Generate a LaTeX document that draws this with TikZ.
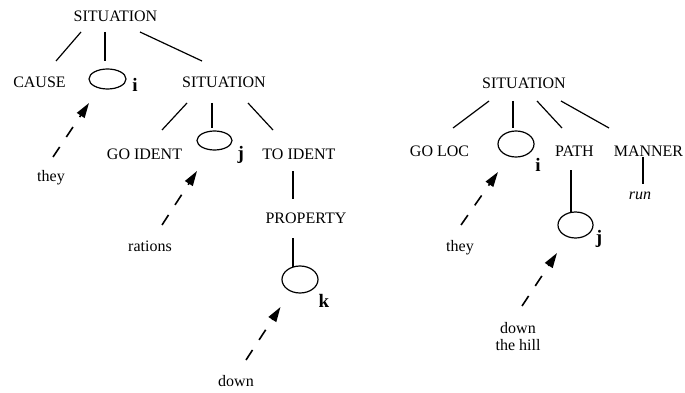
\documentclass[tikz,border=0pt]{standalone}
\usepackage{fontspec}
\setmainfont{Liberation Serif}
\usetikzlibrary{arrows.meta,shapes.geometric}
\begin{document}
\begin{tikzpicture}[x=1pt,y=-1pt,
  lbl/.style={inner sep=0pt,anchor=base,font=\fontsize{16}{17.5}\selectfont},
  idx/.style={inner sep=0pt,anchor=base,font=\fontsize{19}{21}\selectfont\bfseries},
  slot/.style={draw,ellipse,inner sep=0pt,line width=1.2pt},
  edge/.style={line width=1.2pt},
  bind/.style={line width=1.6pt,dash pattern=on 12pt off 12pt,-{Triangle[length=15pt,width=9pt]}}
]
\useasboundingbox (0,0) rectangle (685,393);

% left tree
\node[lbl] (s1) at (115.5,21.5) {SITUATION};
\node[lbl] (cause) at (39.5,88) {CAUSE};
\node[lbl] (s2) at (224,88) {SITUATION};
\node[lbl] (goid) at (144.5,159.3) {GO IDENT};
\node[lbl] (toid) at (299,159.3) {TO IDENT};
\node[lbl] (they1) at (51,181.6) {they};
\node[lbl] (prop) at (306,223.3) {PROPERTY};
\node[lbl] (rat) at (150,251) {rations};
\node[lbl] (down1) at (236,386) {down};

\node[slot,minimum width=37pt,minimum height=20pt] (e1) at (107.5,79) {};
\node[slot,minimum width=35pt,minimum height=19pt] (e2) at (214.5,140.5) {};
\node[slot,minimum width=36pt,minimum height=27pt] (e3) at (300,279.5) {};

\node[idx] (i1) at (135,91.7) {i};
\node[idx] (j1) at (240.7,159) {j};
\node[idx] (k1) at (324,307.3) {k};

% right tree
\node[lbl] (s3) at (524,88.3) {SITUATION};
\node[lbl] (goloc) at (439.5,156.7) {GO LOC};
\node[lbl] (path) at (574.5,156.7) {PATH};
\node[lbl] (manner) at (648.5,156.7) {MANNER};
\node[lbl] (run) at (640,199.3) {\itshape run};
\node[lbl] (they2) at (460,251) {they};
\node[lbl,anchor=north,align=center] (dth) at (518,321.8) {down\\the hill};

\node[slot,minimum width=36pt,minimum height=26pt] (e4) at (516,144) {};
\node[slot,minimum width=35pt,minimum height=26pt] (e5) at (575.5,225) {};

\node[idx] (i2) at (538,171.7) {i};
\node[idx] (j2) at (599,243) {j};

% tree edges
\draw[edge] ([shift={(-34.5,10.5)}]s1.base) -- ([shift={(16.5,-27)}]cause.base);
\draw[edge] ([shift={(-10.5,10.5)}]s1.base) -- ([shift={(-2.5,-18)}]e1.center);
\draw[edge] ([shift={(24.5,10.5)}]s1.base) -- ([shift={(-22,-27)}]s2.base);
\draw[edge] ([shift={(-37,15)}]s2.base) -- ([shift={(17.5,-29.3)}]goid.base);
\draw[edge] ([shift={(-12,15)}]s2.base) -- ([shift={(-2.5,-12.5)}]e2.center);
\draw[edge] ([shift={(24,15)}]s2.base) -- ([shift={(-26,-29.3)}]toid.base);
\draw[edge] ([shift={(-6,11.7)}]toid.base) -- ([shift={(-13,-24.3)}]prop.base);
\draw[edge] ([shift={(-13,14.7)}]prop.base) -- ([shift={(-7,-12.5)}]e3.center);

\draw[edge] ([shift={(-35,12.7)}]s3.base) -- ([shift={(13.5,-28.7)}]goloc.base);
\draw[edge] ([shift={(-11,12.7)}]s3.base) -- ([shift={(-3,-16)}]e4.center);
\draw[edge] ([shift={(13,12.7)}]s3.base) -- ([shift={(-12.5,-28.7)}]path.base);
\draw[edge] ([shift={(37,12.7)}]s3.base) -- ([shift={(-39.5,-28.7)}]manner.base);
\draw[edge] ([shift={(-5.5,0.3)}]manner.base) -- ([shift={(3,-15.3)}]run.base);
\draw[edge] ([shift={(-3.5,13.3)}]path.base) -- ([shift={(-4.5,-12)}]e5.center);

% binding arrows
\draw[bind] ([shift={(2,-24.6)}]they1.base) -- ([shift={(-18.5,24)}]e1.center);
\draw[bind] ([shift={(12,-26)}]rat.base) -- ([shift={(-17.5,30.5)}]e2.center);
\draw[bind] ([shift={(10,-26)}]down1.base) -- ([shift={(-19.5,27.5)}]e3.center);
\draw[bind] ([shift={(1,-26)}]they2.base) -- ([shift={(-18,28)}]e4.center);
\draw[bind] ([shift={(4,-15.8)}]dth.north) -- ([shift={(-18.5,28)}]e5.center);
\end{tikzpicture}
\end{document}
